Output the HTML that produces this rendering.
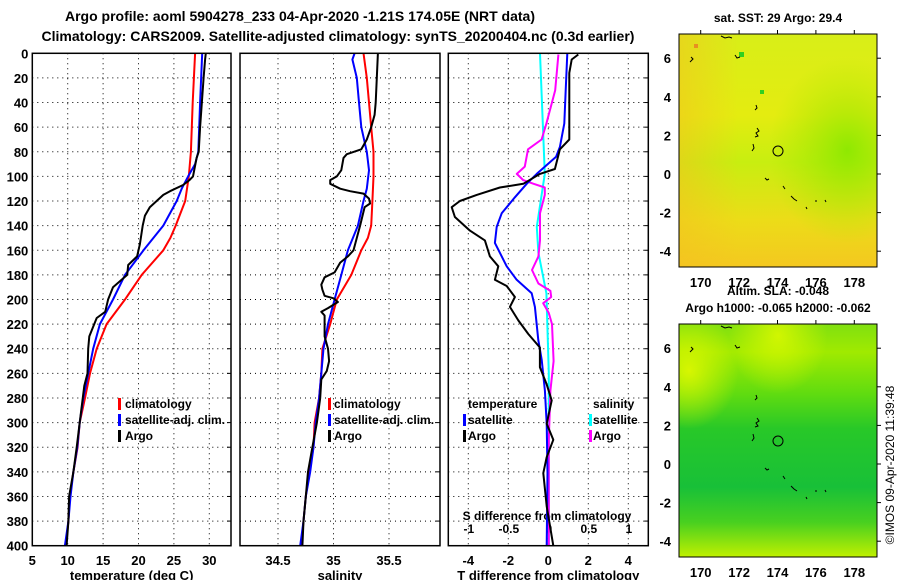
<!DOCTYPE html>
<html><head><meta charset="utf-8">
<style>
body{margin:0;background:#fff;}
svg{display:block;font-family:"Liberation Sans",sans-serif;font-weight:bold;}
</style></head>
<body>
<svg id="chart" width="900" height="580" viewBox="0 0 900 580" xmlns="http://www.w3.org/2000/svg">
<defs>
<linearGradient id="sstg" x1="0" y1="0" x2="0" y2="1">
<stop offset="0" stop-color="#d8ee18"/><stop offset="0.35" stop-color="#e4ec10"/><stop offset="0.55" stop-color="#c8ee10"/><stop offset="0.8" stop-color="#ecdc18"/><stop offset="1" stop-color="#f4c820"/></linearGradient>
<radialGradient id="sstgr" cx="0.85" cy="0.5" r="0.4"><stop offset="0" stop-color="#88e800" stop-opacity="0.9"/><stop offset="1" stop-color="#a8e800" stop-opacity="0"/></radialGradient>
<linearGradient id="sstl" x1="0" y1="0" x2="1" y2="0"><stop offset="0" stop-color="#f4c020" stop-opacity="0.5"/><stop offset="0.3" stop-color="#f4c020" stop-opacity="0"/></linearGradient>
<linearGradient id="slag" x1="0" y1="0" x2="0" y2="1">
<stop offset="0" stop-color="#80e010"/><stop offset="0.12" stop-color="#a0ea00"/><stop offset="0.3" stop-color="#60dc10"/><stop offset="0.45" stop-color="#28c828"/><stop offset="0.7" stop-color="#18c038"/><stop offset="0.85" stop-color="#48d020"/><stop offset="1" stop-color="#c0f000"/></linearGradient>
<radialGradient id="slar" cx="0.5" cy="0.05" r="0.25"><stop offset="0" stop-color="#d8f800" stop-opacity="0.9"/><stop offset="1" stop-color="#d8f800" stop-opacity="0"/></radialGradient>
<radialGradient id="slal" cx="0.05" cy="0.2" r="0.25"><stop offset="0" stop-color="#e0f800" stop-opacity="0.9"/><stop offset="1" stop-color="#e0f800" stop-opacity="0"/></radialGradient>
</defs>

<text x="300" y="21" font-size="14" text-anchor="middle">Argo profile: aoml 5904278_233 04-Apr-2020 -1.21S 174.05E (NRT data)</text>
<text x="338" y="41" font-size="14" text-anchor="middle">Climatology: CARS2009. Satellite-adjusted climatology: synTS_20200404.nc (0.3d earlier)</text>

<g id="p1"></g>
<g id="p2"></g>
<g id="p3"></g>

<!-- legends -->
<g font-size="12">
<rect x="118" y="398" width="3" height="12" fill="#f00"/><text x="125" y="408">climatology</text>
<rect x="118" y="414" width="3" height="12" fill="#00f"/><text x="125" y="424">satellite-adj. clim.</text>
<rect x="118" y="430" width="3" height="12" fill="#000"/><text x="125" y="440">Argo</text>
</g>
<g font-size="12">
<rect x="328" y="398" width="3" height="12" fill="#f00"/><text x="334" y="408">climatology</text>
<rect x="328" y="414" width="3" height="12" fill="#00f"/><text x="334" y="424">satellite-adj. clim.</text>
<rect x="328" y="430" width="3" height="12" fill="#000"/><text x="334" y="440">Argo</text>
</g>
<g font-size="12">
<text x="468" y="408">temperature</text><text x="593" y="408">salinity</text>
<rect x="463" y="414" width="3" height="12" fill="#00f"/><text x="468" y="424">satellite</text>
<rect x="463" y="430" width="3" height="12" fill="#000"/><text x="468" y="440">Argo</text>
<rect x="589" y="414" width="3" height="12" fill="#0ff"/><text x="593" y="424">satellite</text>
<rect x="589" y="430" width="3" height="12" fill="#f0f"/><text x="593" y="440">Argo</text>
</g>

<!-- maps -->
<g>
<text x="778" y="22" font-size="12" text-anchor="middle">sat. SST: 29 Argo: 29.4</text>
<rect x="679" y="34" width="198" height="233" fill="url(#sstg)"/>
<rect x="679" y="34" width="198" height="233" fill="url(#sstl)"/>
<rect x="679" y="34" width="198" height="233" fill="url(#sstgr)"/>
<rect x="739" y="52" width="5" height="5" fill="#30d020"/><rect x="760" y="90" width="4" height="4" fill="#30d020"/><rect x="694" y="44" width="4" height="4" fill="#e89020"/>
<g id="coast1" fill="none" stroke="#000" stroke-width="1"></g>
<circle cx="778" cy="151" r="5" fill="none" stroke="#000" stroke-width="1"/>
<rect x="679" y="34" width="198" height="233" fill="none" stroke="#000"/>
</g>
<g>
<text x="778" y="295" font-size="12" text-anchor="middle">Altim. SLA: -0.048</text>
<text x="778" y="312" font-size="12" text-anchor="middle">Argo h1000: -0.065 h2000: -0.062</text>
<rect x="679" y="324" width="198" height="233" fill="url(#slag)"/>
<rect x="679" y="324" width="198" height="233" fill="url(#slar)"/>
<rect x="679" y="324" width="198" height="233" fill="url(#slal)"/>
<g id="coast2" fill="none" stroke="#000" stroke-width="1"></g>
<circle cx="778" cy="441" r="5" fill="none" stroke="#000" stroke-width="1"/>
<rect x="679" y="324" width="198" height="233" fill="none" stroke="#000"/>
</g>
<g id="mapticks" font-size="12"></g>
<text x="894" y="465" font-size="12" font-weight="normal" text-anchor="middle" transform="rotate(-90 894 465)">©IMOS 09-Apr-2020 11:39:48</text>
</svg>

<script>
// ---- data (depth in m) ----
const climDepth = [0,40,80,100,120,140,150,160,180,200,220,240,260,280,300,320,340,360,380,400];
const climTemp  = [28.0,27.65,27.4,27.1,26.6,25.25,24.5,23.5,20.45,18.1,15.5,14.1,13.15,12.45,11.7,11.4,10.8,10.3,10.1,9.75];
const satDepth  = [0,40,80,90,100,110,120,140,160,180,200,220,240,260,280,300,320,340,360,380,400];
const satTemp   = [29.0,28.7,28.45,28.0,27.0,26.1,25.4,23.5,20.7,18.1,16.4,14.55,13.6,12.9,12.2,11.7,11.35,10.8,10.4,10.1,9.6];
const argoTDepth= [0,5,20,60,80,85,100,103,107,112,115,125,132,140,155,165,172,180,190,200,210,215,230,240,260,270,300,320,340,360,380,400];
const argoTemp  = [29.5,29.4,29.2,28.7,28.5,28.2,27.7,27.2,26.3,24.45,23.5,21.6,20.9,20.6,20.2,19.8,18.55,18.4,16.4,15.7,15.3,14.1,13.05,12.9,12.8,12.35,11.7,11.27,10.8,10.2,10.1,9.85];

const climSDepth= [0,20,40,60,80,100,120,140,150,160,180,200,220,240,260,280,300,320,340,360,380,400];
const climSal   = [35.27,35.3,35.32,35.34,35.36,35.36,35.35,35.34,35.31,35.25,35.16,35.03,34.97,34.90,34.89,34.87,34.83,34.82,34.78,34.75,34.73,34.71];
const satSDepth = [0,5,20,40,60,80,95,110,120,140,160,180,200,220,240,260,280,300,320,340,360,380,400];
const satSal    = [35.19,35.17,35.21,35.23,35.25,35.3,35.32,35.3,35.27,35.22,35.13,35.07,35.01,34.95,34.91,34.89,34.87,34.84,34.82,34.79,34.75,34.73,34.70];
const argoSDepth= [0,20,40,50,60,70,78,82,85,95,100,103,106,110,112,114,118,122,125,140,160,165,170,178,182,188,192,197,199,202,207,210,213,220,230,240,250,258,265,280,300,320,340,360,380,400];
const argoSal   = [35.40,35.39,35.38,35.37,35.34,35.3,35.25,35.12,35.09,35.07,35.03,34.97,34.97,35.06,35.15,35.27,35.32,35.33,35.28,35.24,35.18,35.13,35.06,35.01,34.92,34.89,34.90,34.92,35.0,35.04,34.95,34.89,34.92,34.92,34.92,34.95,34.96,34.94,34.89,34.88,34.85,34.81,34.77,34.75,34.73,34.72];

const dTsatDepth= [0,30,57,76,84,98,106,117,130,141,154,173,184,195,206,233,249,274,301,341,400];
const dTsat     = [0.95,0.87,0.8,0.58,0.39,-0.58,-1.08,-1.67,-2.33,-2.58,-2.67,-2.08,-1.58,-0.83,-0.67,-0.5,-0.33,-0.17,-0.08,-0.04,-0.08];
const dTargoDepth=[1,5,16,70,78,94,98,106,109,115,120,125,133,144,152,165,173,184,189,198,206,217,228,239,255,269,282,301,314,328,341,368,400];
const dTargo    = [1.5,1.17,1.05,1.05,0.58,0.33,-0.42,-1.25,-2.42,-3.58,-4.42,-4.83,-4.67,-3.92,-3.17,-2.92,-2.5,-2.67,-2.08,-1.67,-1.92,-1.5,-1.0,-0.42,-0.42,-0.08,0.17,-0.08,0.25,-0.08,-0.25,-0.08,0.25];
const dSsatDepth= [0,98,141,162,195,260,400];
const dSsat     = [-0.11,-0.05,-0.15,-0.13,-0.03,0.0,0.0];
const dSargoDepth=[1,30,57,70,78,92,98,103,106,109,115,130,152,165,176,187,193,198,203,211,220,250,274,314,400];
const dSargo    = [0.12,0.08,-0.03,-0.09,-0.26,-0.3,-0.4,-0.32,-0.19,-0.05,-0.05,-0.11,-0.11,-0.13,-0.21,-0.13,0.02,0.03,-0.07,0.0,0.04,0.06,0.02,0.0,0.0];

const depthTicks = [0,20,40,60,80,100,120,140,160,180,200,220,240,260,280,300,320,340,360,380,400];
const tempTicks  = [5,10,15,20,25,30];
const salTicks   = [34.5,35,35.5];
const dTTicks    = [-4,-2,0,2,4];
const dSTicks    = [-1,-0.5,0,0.5,1];
const dSTickLabels = ['-1','-0.5','0','0.5','1'];
const lonTicks = [170,172,174,176,178];
const latTicks = [-4,-2,0,2,4,6];

// ---- axes ----
const NS='http://www.w3.org/2000/svg';
const Y0=53.3, YS=1.231;
const yD = d => Y0 + d*YS;
const xT = t => 32.3 + (t-5)*7.08;
const xS = s => 333.5 + (s-35)*111;
const xDT = t => 548.3 + t*20;
const xDS = s => 548.8 + s*80;
const lonX = l => 700.7 + (l-170)*19.2;
const latY = (l,base) => base - l*19.3;

function mk(tag, attrs, parent){const e=document.createElementNS(NS,tag);for(const k in attrs)e.setAttribute(k,attrs[k]);parent.appendChild(e);return e;}

function panel(g, x0, x1, vticks, vx, xlabels, xtitle, showY){
  const top=yD(0), bot=yD(400);
  depthTicks.forEach((d,i)=>{
    if(i>0&&i<depthTicks.length-1){
      const l=mk('line',{x1:x0,x2:x1,y1:yD(d),y2:yD(d),stroke:'#000','stroke-width':1,'stroke-dasharray':'1,4'},g);
      
      
    }
    mk('line',{x1:x1-4,x2:x1,y1:yD(d),y2:yD(d),stroke:'#000'},g);
    if(showY){
      const t=mk('text',{x:x0-4,y:yD(d)+5,'font-size':13,'text-anchor':'end'},g);
      t.textContent=d;
      
      
    }
  });
  vticks.forEach((v,i)=>{
    const x=vx(v);
    if(x>x0+2&&x<x1-2){
      const l=mk('line',{x1:x,x2:x,y1:top,y2:bot,stroke:'#000','stroke-width':1,'stroke-dasharray':'1,4'},g);
      
      
    }
    const t=mk('text',{x:x,y:565,'font-size':13,'text-anchor':'middle'},g);
    t.textContent=xlabels[i];
    
    
  });
  const tt=mk('text',{x:(x0+x1)/2,y:580,'font-size':13,'text-anchor':'middle'},g);
  tt.textContent=xtitle;
  
  
}
function line(g, depths, vals, fx, color, name, w){
  const d=depths.map((dd,i)=>(i?'L':'M')+fx(vals[i]).toFixed(1)+','+yD(dd).toFixed(1)).join('');
  const p=mk('path',{d:d,fill:'none',stroke:color,'stroke-width':w||2,'stroke-linejoin':'round'},g);
  
  
}
function frame(g,x0,x1){mk('rect',{x:x0,y:yD(0),width:x1-x0,height:yD(400)-yD(0),fill:'none',stroke:'#000','stroke-width':1.5},g);}

const p1=document.getElementById('p1');
panel(p1,32.3,231,tempTicks,xT,tempTicks,'temperature (deg C)',true);
line(p1,climDepth,climTemp,xT,'#f00','climatology-temperature-line');
line(p1,satDepth,satTemp,xT,'#00f','satellite-temperature-line');
line(p1,argoTDepth,argoTemp,xT,'#000','argo-temperature-line');
frame(p1,32.3,231);

const p2=document.getElementById('p2');
panel(p2,240,440,salTicks,xS,salTicks,'salinity',false);
line(p2,climSDepth,climSal,xS,'#f00','climatology-salinity-line');
line(p2,satSDepth,satSal,xS,'#00f','satellite-salinity-line');
line(p2,argoSDepth,argoSal,xS,'#000','argo-salinity-line');
frame(p2,240,440);

const p3=document.getElementById('p3');
panel(p3,448.3,648.3,dTTicks,xDT,dTTicks,'T difference from climatology',false);
dSTicks.forEach((v,i)=>{
  const t=mk('text',{x:xDS(v),y:533,'font-size':12,'text-anchor':'middle'},p3);
  t.textContent=dSTickLabels[i];
  
  
});
const st=mk('text',{x:547,y:520,'font-size':12,'text-anchor':'middle'},p3);
st.textContent='S difference from climatology';


line(p3,dSsatDepth,dSsat,xDS,'#0ff','salinity-satellite-diff-line');
line(p3,dSargoDepth,dSargo,xDS,'#f0f','salinity-argo-diff-line');
line(p3,dTsatDepth,dTsat,xDT,'#00f','temperature-satellite-diff-line');
line(p3,dTargoDepth,dTargo,xDT,'#000','temperature-argo-diff-line');
frame(p3,448.3,648.3);

// map ticks
const mt=document.getElementById('mapticks');
[174,464].forEach((base,mi)=>{
  const top= mi?324:34, bot= mi?557:267;
  latTicks.forEach(l=>{
    const y=latY(l,base);
    mk('line',{x1:877,x2:881,y1:y,y2:y,stroke:'#000'},mt);
    const t=mk('text',{x:671,y:y+5,'text-anchor':'end','font-size':13},mt);
    t.textContent=l;
    
    
  });
  lonTicks.forEach(l=>{
    const x=lonX(l);
    mk('line',{x1:x,x2:x,y1:top-4,y2:top,stroke:'#000'},mt);
    const t=mk('text',{x:x,y:bot+20,'text-anchor':'middle','font-size':13},mt);
    t.textContent=l;
    
    
  });
});
// coastline fragments (relative to top map)
const coast=["M690,62l3,-3l-2,-2","M721,36l4,2l4,-1l3,1","M735,55l2,3l3,-1","M752,151l2,-3l-1,-4","M755,110l2,-2l-1,-3","M755,137l3,-1l-2,-3l3,-2l-2,-3","M765,178l2,2l2,-1","M783,186l2,3","M791,196l3,3l3,2","M806,207l1,2","M816,200l0,2","M825,200l1,2"];
[['coast1',0],['coast2',290]].forEach(([id,dy])=>{
  const g=document.getElementById(id);
  coast.forEach(c=>{
    const p=mk('path',{d:c,transform:'translate(0,'+dy+')'},g);
    
    
  });
});
</script>
</body></html>
